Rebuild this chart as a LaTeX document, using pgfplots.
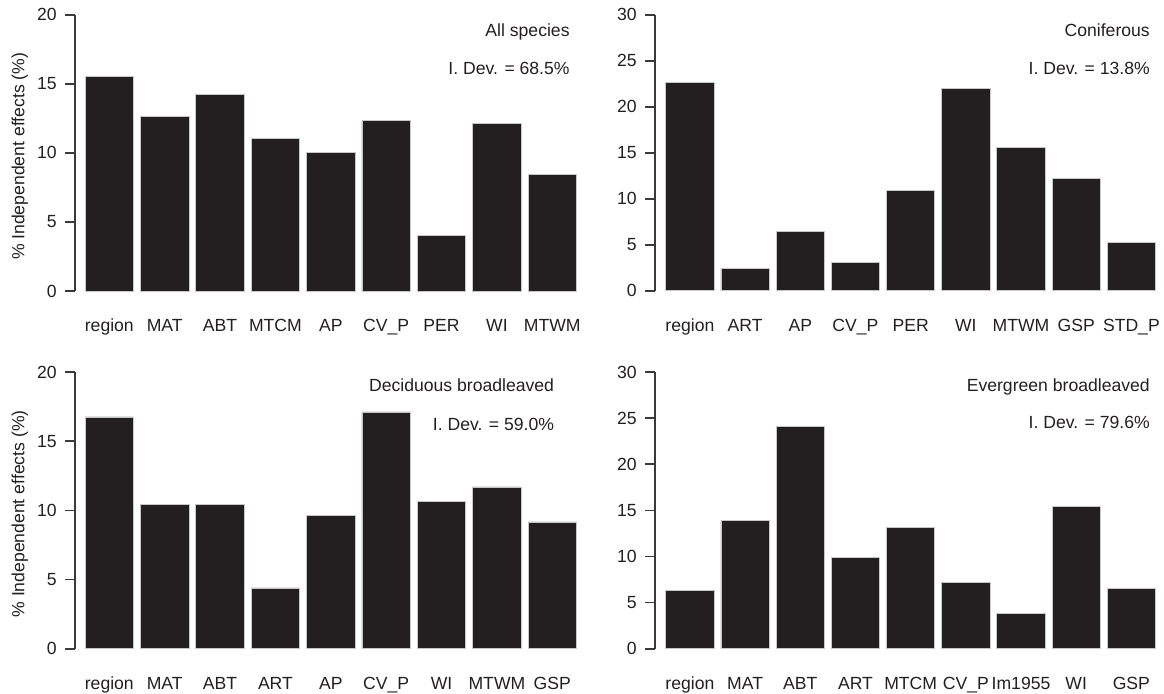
\documentclass[border=0pt]{standalone}
\usepackage{pgfplots}
\pgfplotsset{compat=1.18}
\usepackage{fontspec}
\setmainfont{Liberation Sans}
\definecolor{barc}{HTML}{231F20}
\definecolor{axc}{HTML}{3A3A3A}
\newcommand{\fs}{\fontsize{8.8}{10.5}\selectfont}
\pgfplotsset{
 panel/.style={
  scale only axis,
  anchor=south west,
  ymin=0,
  axis y line*=left,
  axis x line*=bottom,
  x axis line style={draw=none},
  y axis line style={draw=axc, line width=0.8pt},
  xtick={0,...,8},
  xtick style={draw=none},
  ytick style={draw=axc, line width=0.8pt},
  tick align=outside,
  major tick length=5pt,
  ybar, bar width=0.876,
  font=\fs,
  tick label style={text=barc, font=\fs},
  /pgf/number format/assume math mode=true,
  yticklabel style={anchor=east, inner sep=0pt, xshift=-4pt},
  xticklabel style={anchor=base, inner sep=0pt, yshift=-15.3pt},
  every axis y label/.style={at={(axis description cs:-0.11,0.487)}, anchor=center, rotate=90, text=barc, font=\fs},
  clip=false,
 },
 left/.style={panel, xmin=-0.62, xmax=8.428, width=250.5pt},
 right/.style={panel, xmin=-0.633, xmax=8.468, width=251.1pt},
}
\tikzset{ann/.style={anchor=base east, text=barc, font=\fs, inner sep=0pt}}
\begin{document}
\begin{tikzpicture}
\useasboundingbox (0,0) rectangle (582pt,-346.5pt);
% Panel 1: All species
\begin{axis}[left, at={(37.5pt,-145.5pt)}, height=138.15pt,
  ymax=20, ytick={0,5,...,20},
  xticklabels={region,MAT,ABT,MTCM,AP,CV\_P,PER,WI,MTWM},
  ylabel={\% Independent effects (\%)}]
\addplot[fill=barc, draw=white!78!black, line width=0.4pt] coordinates {
(0,15.56) (1,12.61) (2,14.20) (3,11.04) (4,10.02) (5,12.32) (6,3.99) (7,12.13) (8,8.45)};
\node[ann] at (rel axis cs:0.988,0.920) {All species};
\node[ann] at (rel axis cs:0.988,0.782) {I. Dev. = 68.5\%};
\end{axis}
% Panel 2: Coniferous
\begin{axis}[right, at={(327.5pt,-145.35pt)}, height=138pt,
  ymax=30, ytick={0,5,...,30},
  xticklabels={region,ART,AP,CV\_P,PER,WI,MTWM,GSP,STD\_P}]
\addplot[fill=barc, draw=white!78!black, line width=0.4pt] coordinates {
(0,22.64) (1,2.46) (2,6.49) (3,3.04) (4,10.90) (5,22.03) (6,15.54) (7,12.21) (8,5.22)};
\node[ann] at (rel axis cs:0.986,0.920) {Coniferous};
\node[ann] at (rel axis cs:0.986,0.782) {I. Dev. = 13.8\%};
\end{axis}
% Panel 3: Deciduous broadleaved
\begin{axis}[left, at={(37.5pt,-324.35pt)}, height=138.35pt,
  ymax=20, ytick={0,5,...,20},
  xticklabels={region,MAT,ABT,ART,AP,CV\_P,WI,MTWM,GSP},
  ylabel={\% Independent effects (\%)}]
\addplot[fill=barc, draw=white!78!black, line width=0.4pt] coordinates {
(0,16.75) (1,10.41) (2,10.41) (3,4.39) (4,9.61) (5,17.11) (6,10.63) (7,11.69) (8,9.16)};
\node[ann] at (rel axis cs:0.957,0.929) {Deciduous broadleaved};
\node[ann] at (rel axis cs:0.957,0.790) {I. Dev. = 59.0\%};
\end{axis}
% Panel 4: Evergreen broadleaved
\begin{axis}[right, at={(327.5pt,-324.35pt)}, height=138.35pt,
  ymax=30, ytick={0,5,...,30},
  xticklabels={region,MAT,ABT,ART,MTCM,CV\_P,Im1955,WI,GSP}]
\addplot[fill=barc, draw=white!78!black, line width=0.4pt] coordinates {
(0,6.29) (1,13.88) (2,24.10) (3,9.87) (4,13.12) (5,7.19) (6,3.79) (7,15.47) (8,6.58)};
\node[ann] at (rel axis cs:0.986,0.931) {Evergreen broadleaved};
\node[ann] at (rel axis cs:0.986,0.795) {I. Dev. = 79.6\%};
\end{axis}
\end{tikzpicture}
\end{document}
